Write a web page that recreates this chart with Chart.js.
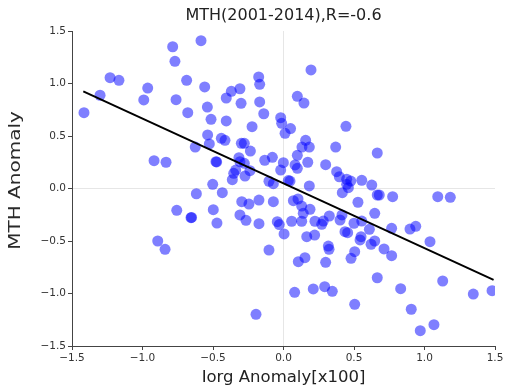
<!DOCTYPE html>
<html>
<head>
<meta charset="utf-8">
<script src="https://cdn.jsdelivr.net/npm/chart.js@4.4.0/dist/chart.umd.min.js"></script>
<style>
  html, body { margin: 0; padding: 0; background: #fff; }
  #wrap { width: 506px; height: 388px; }
</style>
</head>
<body>
<div id="wrap"><canvas id="scatter"></canvas></div>
<script>
// values
const iorgAnomaly = [
  -1.415, -1.301, -1.230, -1.167, -0.963, -0.991, -0.786, -0.770, -0.585, -0.762,
  -0.687, -0.679, -0.559, -0.540, -0.514, -0.406, -0.370, -0.309, -0.301, -0.176,
  -0.169, -0.169, -0.140, -0.406, -0.223, -0.020, -0.013, 0.011, 0.050, -0.538,
  -0.526, -0.441, -0.415, -0.626, -0.299, -0.278, -0.235, -0.918, -0.833, -0.479,
  -0.474, -0.316, -0.309, -0.278, -0.133, -0.079, -0.001, -0.020, -0.238, -0.353,
  -0.339, -0.363, -0.273, -0.103, -0.072, 0.034, -0.502, -0.618, -0.434,
  0.195, 0.098, 0.145, 0.443, 0.157, 0.131, 0.183, 0.370, 0.665, 0.098,
  0.082, 0.098, 0.172, 0.299, 0.377, 0.396, 0.448, 0.477, 0.555, 0.448,
  0.460, 0.046, 0.183, 0.626, 0.417, 0.665, 0.679, 0.774, 1.094, 1.183,
  -0.296, -0.245, -0.174, -0.072, 0.070, 0.103, 0.129, 0.188, 0.140, 0.528,
  0.415, 0.647, 0.058, 0.129, 0.223, 0.282, 0.271, 0.325, 0.401, 0.500,
  0.555, 0.004, 0.165, 0.221, 0.436, 0.455, 0.609, 0.767, 0.897, 0.938,
  0.550, 0.543, 0.647, 0.621, 0.318, 0.323, 0.713, 1.039, 0.505, 0.479,
  0.767, 0.105, 0.152, 0.299, 0.665, 1.129, 0.079, 0.211, 0.292, 0.346,
  0.831, 1.346, 1.479, 0.505, 0.906, 1.067, 0.970,
  -0.757, -0.656, -0.652, -0.498, -0.472, -0.309, -0.266, -0.174, -0.892, -0.840,
  -0.195, -0.103, -0.044, -0.030
];
const mthAnomaly = [
  0.722, 0.888, 1.055, 1.030, 0.957, 0.843, 1.350, 1.211, 1.408, 0.846,
  1.030, 0.722, 0.967, 0.776, 0.659, 0.862, 0.926, 0.950, 0.811, 1.062,
  0.992, 0.824, 0.712, 0.643, 0.589, 0.674, 0.621, 0.526, 0.571, 0.510,
  0.424, 0.478, 0.459, 0.395, 0.430, 0.430, 0.357, 0.265, 0.250, 0.255,
  0.253, 0.293, 0.255, 0.240, 0.269, 0.297, 0.246, 0.176, 0.170, 0.145,
  0.176, 0.084, 0.119, 0.069, 0.046, 0.076, 0.040, -0.050, -0.040,
  1.129, 0.878, 0.814, 0.592, 0.459, 0.395, 0.395, 0.395, 0.338, 0.316,
  0.224, 0.192, 0.250, 0.227, 0.160, 0.112, 0.088, 0.071, 0.078, 0.040,
  0.008, 0.071, 0.024, 0.033, -0.040, -0.062, -0.062, -0.078, -0.078, -0.084,
  -0.126, -0.148, -0.110, -0.126, -0.116, -0.100, -0.167, -0.198, -0.236, -0.131,
  -0.252, -0.236, -0.312, -0.312, -0.312, -0.310, -0.341, -0.262, -0.300, -0.331,
  -0.310, -0.433, -0.459, -0.443, -0.411, -0.421, -0.389, -0.379, -0.386, -0.360,
  -0.459, -0.490, -0.500, -0.531, -0.548, -0.579, -0.576, -0.507, -0.602, -0.665,
  -0.640, -0.697, -0.659, -0.703, -0.850, -0.881, -0.989, -0.957, -0.935, -0.979,
  -0.954, -1.005, -0.973, -1.103, -1.150, -1.297, -1.354,
  -0.208, -0.278, -0.275, -0.202, -0.329, -0.252, -0.303, -0.335, -0.500, -0.579,
  -1.198, -0.586, -0.316, -0.343
];
const fitX = [-1.42, 1.49];
const fitY = [0.925, -0.87];
const axisTicks = [-1.5, -1.0, -0.5, 0.0, 0.5, 1.0, 1.5];
const chartTitle = 'MTH(2001-2014),R=-0.6';
const xTitle = 'Iorg Anomaly[x100]';
const yTitle = 'MTH Anomaly';

const fontFamily = '"DejaVu Sans", sans-serif';
const fmt = v => v.toFixed(1).replace('-', '\u2212');

const points = iorgAnomaly.map((x, i) => ({ x: x, y: mthAnomaly[i] }));
const fitLine = fitX.map((x, i) => ({ x: x, y: fitY[i] }));

// title centred over the plot area, y label drawn by hand (the source image is squeezed sideways)
const plotTexts = {
    id: 'plotTexts',
    afterDraw(chart) {
        const { ctx, chartArea } = chart;
        ctx.save();
        ctx.font = '16px ' + fontFamily;
        ctx.fillStyle = '#222';
        ctx.textAlign = 'center';
        ctx.textBaseline = 'middle';
        ctx.fillText(chartTitle, (chartArea.left + chartArea.right) / 2, 16);
        ctx.restore();

        ctx.save();
        ctx.translate(16, (chartArea.top + chartArea.bottom) / 2 - 8);
        ctx.rotate(-Math.PI / 2);
        ctx.scale(1, 0.78);
        ctx.font = '20px ' + fontFamily;
        ctx.fillStyle = '#2a2a2a';
        ctx.textAlign = 'center';
        ctx.textBaseline = 'middle';
        ctx.fillText(yTitle, 0, 0);
        ctx.restore();
    }
};

const zeroGrid = ctx => ctx.tick && ctx.tick.value === 0 ? '#e6e6e6' : 'rgba(0,0,0,0)';

function axisOptions(isX) {
    return {
        type: 'linear',
        min: -1.5,
        max: 1.5,
        afterBuildTicks: scale => { scale.ticks = axisTicks.map(v => ({ value: v })); },
        afterFit: scale => {
            if (isX) scale.height = 42;
            else scale.width = 72;
        },
        border: { display: true, color: '#444', width: 1 },
        grid: {
            color: zeroGrid,
            lineWidth: 1,
            drawTicks: true,
            tickLength: 4,
            tickColor: '#444'
        },
        ticks: {
            callback: v => fmt(v),
            color: '#333',
            font: { family: fontFamily, size: 10.5 },
            padding: 2,
            maxRotation: 0
        },
        title: {
            display: isX,
            text: xTitle,
            color: '#222',
            font: { family: fontFamily, size: 16.5 },
            padding: { top: 0, bottom: 0 }
        }
    };
}

new Chart(document.getElementById('scatter'), {
    type: 'scatter',
    data: {
        datasets: [
            {
                label: 'fit',
                data: fitLine,
                showLine: true,
                borderColor: '#000',
                borderWidth: 2,
                pointRadius: 0,
                order: 0
            },
            {
                label: 'months',
                data: points,
                backgroundColor: 'rgba(0,0,255,0.5)',
                borderWidth: 0,
                pointRadius: 5.5,
                order: 1
            }
        ]
    },
    options: {
        responsive: true,
        maintainAspectRatio: false,
        animation: false,
        layout: { padding: { top: 31, right: 11, left: 0, bottom: 0 } },
        plugins: {
            legend: { display: false },
            tooltip: { enabled: false }
        },
        scales: {
            x: axisOptions(true),
            y: axisOptions(false)
        }
    },
    plugins: [plotTexts]
});
</script>
</body>
</html>
